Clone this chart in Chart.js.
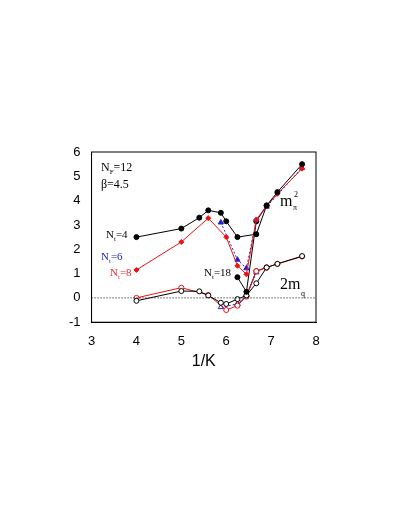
<!DOCTYPE html>
<html><head><meta charset="utf-8">
<script src="https://cdn.jsdelivr.net/npm/chart.js@4"></script>
<style>body{margin:0;background:#fff}#wrap{position:absolute;left:0;top:0;width:409px;height:529px}</style>
</head><body><div id="wrap"><canvas id="c" width="409" height="529"></canvas></div>
<script>
const nt4X = [4, 5, 5.4, 5.6, 5.88, 6, 6.25, 6.67, 6.9, 7.14, 7.69];
const nt4Y = [2.5, 2.85, 3.3, 3.6, 3.5, 3.15, 2.5, 2.62, 3.8, 4.35, 5.5];
const nt8X = [4, 5, 5.6, 6, 6.25, 6.45, 6.67, 6.9, 7.14, 7.69];
const nt8Y = [1.15, 2.3, 3.28, 2.5, 1.32, 0.97, 3.22, 3.78, 4.28, 5.32];
const nt6X = [5.88, 6.25, 6.45, 6.67, 6.9, 7.69];
const nt6Y = [3.1, 1.57, 1.22, 3.2, 3.75, 5.35];
const nt18X = [6.25, 6.45, 6.67, 6.9];
const nt18Y = [0.85, 0.25, 3.15, 3.8];
const mq4X = [4, 5, 5.4, 5.6, 5.88, 6, 6.25, 6.45, 6.67, 6.9, 7.14, 7.69];
const mq4Y = [-0.12, 0.28, 0.27, 0.1, -0.2, -0.25, -0.05, 0.1, 0.6, 1.25, 1.4, 1.72];
const mq8X = [4, 5, 5.6, 6, 6.25, 6.45, 6.67, 6.9, 7.14, 7.69];
const mq8Y = [0.0, 0.42, 0.12, -0.5, -0.32, 0.05, 1.1, 1.25, 1.4, 1.7];
const mq6X = [5.88, 6.25, 6.45, 6.67];
const mq6Y = [-0.38, -0.25, 0.1, 1.05];
const mq18X = [6.25, 6.45, 6.67, 6.9];
const mq18Y = [-0.3, 0.08, 1.1, 1.25];

const pts = (xs, ys) => xs.map((x, i) => ({x, y: ys[i]}));
function ds(xs, ys, color, style, filled, dash) {
  return {data: pts(xs, ys), borderColor: color, backgroundColor: filled ? color : '#fff',
    pointBorderColor: color, pointStyle: style, pointRadius: style === 'triangle' ? 3 : 2.5,
    borderWidth: 1, pointBorderWidth: 1, borderDash: dash || [], tension: 0};
}

const labels = {
  id: 'labels',
  afterDraw(chart) {
    const {ctx, chartArea: a, scales: {x, y}} = chart;
    ctx.save();
    const sub = (t, s, rest, px, py, col, size) => {
      ctx.fillStyle = col; ctx.font = (size || 11) + 'px "Liberation Serif"';
      ctx.fillText(t, px, py);
      let w = ctx.measureText(t).width;
      ctx.font = '7px "Liberation Serif"'; ctx.fillText(s, px + w, py + 3);
      w += ctx.measureText(s).width;
      ctx.font = (size || 11) + 'px "Liberation Serif"'; ctx.fillText(rest, px + w, py);
    };
    sub('N', 'F', '=12', 101, 171, '#000', 12);
    ctx.font = '12px "Liberation Serif"'; ctx.fillText('β=4.5', 101, 188);
    sub('N', 't', '=4', 106, 238, '#000');
    sub('N', 't', '=6', 101, 260, '#1a1acc');
    sub('N', 't', '=8', 110, 276, '#ee2222');
    sub('N', 't', '=18', 204, 276, '#000');
    ctx.fillStyle = '#000';
    ctx.font = '16px "Liberation Serif"'; ctx.fillText('m', 280, 206);
    ctx.font = '8px "Liberation Serif"'; ctx.fillText('π', 293, 210); ctx.fillText('2', 294, 197);
    ctx.font = '16px "Liberation Serif"'; ctx.fillText('2m', 280, 289);
    ctx.font = '8px "Liberation Serif"'; ctx.fillText('q', 301, 296);
    ctx.lineWidth = 1; ctx.strokeStyle = '#000';
    ctx.strokeRect(a.left, a.top, a.right - a.left, a.bottom - a.top);
    ctx.setLineDash([1, 2]);
    ctx.beginPath(); ctx.moveTo(a.left, y.getPixelForValue(0)); ctx.lineTo(a.right, y.getPixelForValue(0)); ctx.stroke();
    ctx.restore();
  }
};

new Chart(document.getElementById('c'), {
  type: 'line',
  data: {datasets: [
    ds(nt4X, nt4Y, '#000', 'circle', true),
    ds(nt8X, nt8Y, '#ee1111', 'rectRot', true),
    ds(nt6X, nt6Y, '#2222cc', 'triangle', true, [2, 2]),
    ds(nt18X, nt18Y, '#000', 'circle', true),
    ds(mq4X, mq4Y, '#000', 'circle', false),
    ds(mq8X, mq8Y, '#ee1111', 'circle', false),
    ds(mq6X, mq6Y, '#2222cc', 'triangle', false, [2, 2]),
    ds(mq18X, mq18Y, '#000', 'circle', false)
  ]},
  options: {
    responsive: false, animation: false,
    layout: {padding: {left: 66, right: 93, top: 152, bottom: 158}},
    plugins: {legend: {display: false}, tooltip: {enabled: false}},
    scales: {
      x: {type: 'linear', min: 3, max: 8, border: {color: '#000'},
        grid: {display: false},
        ticks: {stepSize: 1, color: '#000', font: {family: 'Liberation Sans', size: 13}},
        title: {display: true, text: '1/K', color: '#000', padding: 0, font: {family: 'Liberation Sans', size: 16}}},
      y: {min: -1, max: 6, border: {color: '#000'},
        grid: {display: false},
        ticks: {stepSize: 1, color: '#000', font: {family: 'Liberation Sans', size: 13}}}
    }
  },
  plugins: [labels]
});
</script></body></html>
